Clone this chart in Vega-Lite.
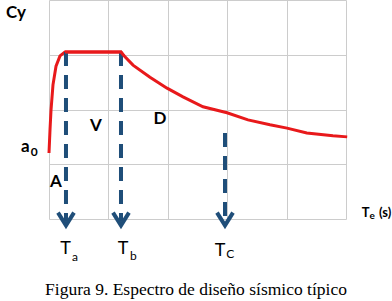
{
  "$schema": "https://vega.github.io/schema/vega-lite/v6.json",
  "width": 297,
  "height": 219,
  "autosize": {"type": "none"},
  "padding": {"left": 49, "top": 0, "right": 46, "bottom": 82},
  "background": "white",
  "config": {"view": {"stroke": null}},
  "datasets": {
    "curve": [
      {"x": 0.0, "y": 1.205}, {"x": 0.017, "y": 1.63}, {"x": 0.034, "y": 1.99},
      {"x": 0.067, "y": 2.45}, {"x": 0.118, "y": 2.79}, {"x": 0.185, "y": 2.98},
      {"x": 0.269, "y": 3.05}, {"x": 1.212, "y": 3.05}, {"x": 1.263, "y": 2.98},
      {"x": 1.414, "y": 2.81}, {"x": 1.70, "y": 2.59}, {"x": 1.987, "y": 2.39},
      {"x": 2.256, "y": 2.23}, {"x": 2.593, "y": 2.05}, {"x": 2.997, "y": 1.94},
      {"x": 3.35, "y": 1.81}, {"x": 3.72, "y": 1.72}, {"x": 4.007, "y": 1.66},
      {"x": 4.34, "y": 1.57}, {"x": 4.78, "y": 1.52}, {"x": 5.02, "y": 1.50}
    ],
    "dashes": [
      {"g": "Ta", "x": 0.286, "y": 3.05}, {"g": "Ta", "x": 0.286, "y": -0.05},
      {"g": "Tb", "x": 1.212, "y": 3.05}, {"g": "Tb", "x": 1.212, "y": -0.05},
      {"g": "Tc", "x": 2.963, "y": 1.57}, {"g": "Tc", "x": 2.963, "y": -0.05}
    ],
    "arrows": [
      {"x": 0.286, "y": 0}, {"x": 1.212, "y": 0}, {"x": 2.963, "y": 0}
    ],
    "boldLabels": [
      {"t": "Cy", "x": -0.556, "y": 3.76},
      {"t": "a", "x": -0.4, "y": 1.315},
      {"t": "A", "x": 0.118, "y": 0.676},
      {"t": "V", "x": 0.79, "y": 1.70},
      {"t": "D", "x": 1.87, "y": 1.83}
    ],
    "boldSubs": [
      {"t": "0", "x": -0.25, "y": 1.22}
    ],
    "tLabels": [
      {"t": "T", "x": 0.278, "y": -0.548},
      {"t": "T", "x": 1.246, "y": -0.548},
      {"t": "T", "x": 2.88, "y": -0.584}
    ],
    "tSubs": [
      {"t": "a", "x": 0.438, "y": -0.694},
      {"t": "b", "x": 1.42, "y": -0.676},
      {"t": "C", "x": 3.05, "y": -0.64}
    ],
    "axisLabel": [
      {"t": "T", "x": 5.33, "y": 0.11},
      {"t": "(s)", "x": 5.66, "y": 0.11}
    ],
    "axisSub": [
      {"t": "e", "x": 5.44, "y": 0.05}
    ],
    "caption": [
      {"t": "Figura 9. Espectro de diseño sísmico típico", "x": 2.475, "y": -1.297}
    ]
  },
  "layer": [
    {
      "data": {"name": "curve"},
      "mark": {"type": "line", "color": "#e8191b", "strokeWidth": 3, "clip": false},
      "encoding": {
        "x": {"field": "x", "type": "quantitative", "scale": {"domain": [0, 5], "nice": false, "zero": false},
              "axis": {"values": [0, 1, 2, 3, 4, 5], "grid": true, "gridColor": "#cccccc", "gridWidth": 1, "labels": false, "ticks": false, "domain": false, "title": null}},
        "y": {"field": "y", "type": "quantitative", "scale": {"domain": [0, 4], "nice": false, "zero": false},
              "axis": {"values": [0, 1, 2, 3, 4], "grid": true, "gridColor": "#cccccc", "gridWidth": 1, "labels": false, "ticks": false, "domain": false, "title": null}}
      }
    },
    {
      "data": {"name": "dashes"},
      "mark": {"type": "line", "color": "#1f4e79", "strokeWidth": 4, "strokeDash": [14, 9], "strokeCap": "butt"},
      "encoding": {
        "x": {"field": "x", "type": "quantitative"},
        "y": {"field": "y", "type": "quantitative"},
        "detail": {"field": "g"},
        "order": {"field": "y", "sort": "descending"}
      }
    },
    {
      "data": {"name": "curve"},
      "transform": [{"filter": "datum.x >= 0.26 && datum.x <= 1.3"}],
      "mark": {"type": "line", "color": "#e8191b", "strokeWidth": 3},
      "encoding": {
        "x": {"field": "x", "type": "quantitative"},
        "y": {"field": "y", "type": "quantitative"}
      }
    },
    {
      "data": {"name": "arrows"},
      "mark": {"type": "point", "shape": "M-1,-0.8L0,0.8L1,-0.8", "filled": false, "stroke": "#1f4e79", "strokeWidth": 4, "size": 256, "opacity": 1, "strokeJoin": "miter"},
      "encoding": {
        "x": {"field": "x", "type": "quantitative"},
        "y": {"field": "y", "type": "quantitative"}
      }
    },
    {
      "data": {"name": "boldLabels"},
      "mark": {"type": "text", "font": "Lato", "fontWeight": "bold", "fontSize": 17, "color": "#000000", "baseline": "middle", "align": "center"},
      "encoding": {
        "x": {"field": "x", "type": "quantitative"},
        "y": {"field": "y", "type": "quantitative"},
        "text": {"field": "t"}
      }
    },
    {
      "data": {"name": "boldSubs"},
      "mark": {"type": "text", "font": "Lato", "fontWeight": "bold", "fontSize": 12, "color": "#000000", "baseline": "middle", "align": "center"},
      "encoding": {
        "x": {"field": "x", "type": "quantitative"},
        "y": {"field": "y", "type": "quantitative"},
        "text": {"field": "t"}
      }
    },
    {
      "data": {"name": "tLabels"},
      "mark": {"type": "text", "font": "Lato", "fontSize": 18, "color": "#000000", "baseline": "middle", "align": "center"},
      "encoding": {
        "x": {"field": "x", "type": "quantitative"},
        "y": {"field": "y", "type": "quantitative"},
        "text": {"field": "t"}
      }
    },
    {
      "data": {"name": "tSubs"},
      "mark": {"type": "text", "font": "Lato", "fontSize": 12, "color": "#000000", "baseline": "middle", "align": "center"},
      "encoding": {
        "x": {"field": "x", "type": "quantitative"},
        "y": {"field": "y", "type": "quantitative"},
        "text": {"field": "t"}
      }
    },
    {
      "data": {"name": "axisLabel"},
      "mark": {"type": "text", "font": "Lato", "fontWeight": "bold", "fontSize": 13, "color": "#000000", "baseline": "middle", "align": "center"},
      "encoding": {
        "x": {"field": "x", "type": "quantitative"},
        "y": {"field": "y", "type": "quantitative"},
        "text": {"field": "t"}
      }
    },
    {
      "data": {"name": "axisSub"},
      "mark": {"type": "text", "font": "Lato", "fontWeight": "bold", "fontSize": 10, "color": "#000000", "baseline": "middle", "align": "center"},
      "encoding": {
        "x": {"field": "x", "type": "quantitative"},
        "y": {"field": "y", "type": "quantitative"},
        "text": {"field": "t"}
      }
    },
    {
      "data": {"name": "caption"},
      "mark": {"type": "text", "font": "Liberation Serif", "fontSize": 17.5, "color": "#000000", "baseline": "middle", "align": "center"},
      "encoding": {
        "x": {"field": "x", "type": "quantitative"},
        "y": {"field": "y", "type": "quantitative"},
        "text": {"field": "t"}
      }
    }
  ]
}
